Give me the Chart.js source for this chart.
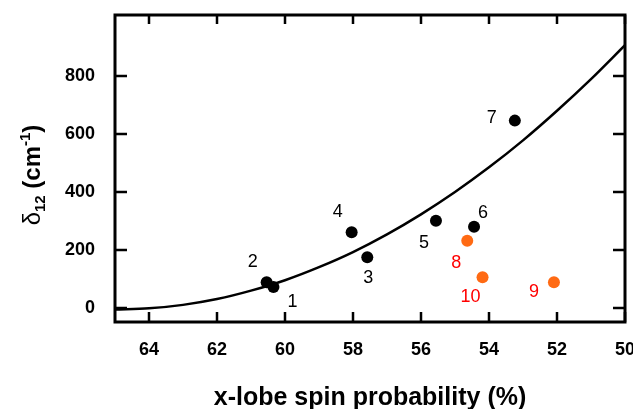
<!DOCTYPE html>
<html>
<head>
<meta charset="utf-8">
<script src="https://cdn.jsdelivr.net/npm/chart.js@4.4.1/dist/chart.umd.min.js"></script>
<style>
  body { margin: 0; background: #fff; }
  canvas { display: block; }
</style>
</head>
<body>
<canvas id="chart" width="633" height="409"></canvas>
<script>
// complexes 1-7 (black) and 8-10 (orange)
const idsA = ['1', '2', '3', '4', '5', '6', '7'];
const spinA = [60.34, 60.54, 57.58, 58.04, 55.56, 54.44, 53.24];
const deltaA = [73, 89, 175, 261, 301, 280, 646];

const idsB = ['8', '9', '10'];
const spinB = [54.64, 52.09, 54.19];
const deltaB = [232, 89, 106];

// fitted trend line, read at each percent
const fitX = [65, 64, 63, 62, 61, 60, 59, 58, 57, 56, 55, 54, 53, 52, 51, 50];
const fitY = [-5, -1, 11, 31, 60, 96, 141, 193, 254, 323, 400, 485, 578, 680, 789, 906];

const xTicks = [64, 62, 60, 58, 56, 54, 52, 50];
const yTicks = [0, 200, 400, 600, 800];

// label placement next to each dot (px)
const offsA = [[19, 15], [-14, -20], [1, 21], [-14, -20], [-12, 22], [9, -14], [-23, -3]];
const offsB = [[-11, 22], [-20, 10], [-12, 20]];

const FONT = '"Liberation Sans", Arial, sans-serif';

const frame = {
    id: 'frame',
    afterDatasetsDraw(chart) {
        const ctx = chart.ctx;
        const a = chart.chartArea;
        const xs = chart.scales.x, ys = chart.scales.y;
        ctx.save();
        ctx.strokeStyle = '#000';
        ctx.lineWidth = 2.5;
        ctx.beginPath();
        xTicks.forEach(v => {
            const p = xs.getPixelForValue(v);
            ctx.moveTo(p, a.bottom); ctx.lineTo(p, a.bottom - 10);
            ctx.moveTo(p, a.top); ctx.lineTo(p, a.top + 9);
        });
        yTicks.forEach(v => {
            const p = ys.getPixelForValue(v);
            ctx.moveTo(a.left, p); ctx.lineTo(a.left + 12, p);
            ctx.moveTo(a.right, p); ctx.lineTo(a.right - 12, p);
        });
        ctx.stroke();
        ctx.lineWidth = 3;
        ctx.strokeRect(a.left, a.top, a.right - a.left, a.bottom - a.top);

        // point numbers
        ctx.font = '18px ' + FONT;
        ctx.textAlign = 'center';
        ctx.textBaseline = 'middle';
        const tag = (ids, xsv, ysv, offs, color) => {
            ctx.fillStyle = color;
            ids.forEach((t, i) => {
                const px = xs.getPixelForValue(xsv[i]) + offs[i][0];
                const py = ys.getPixelForValue(ysv[i]) + offs[i][1];
                ctx.fillText(t, px, py);
            });
        };
        tag(idsA, spinA, deltaA, offsA, '#000');
        tag(idsB, spinB, deltaB, offsB, '#ff0000');

        // x title
        ctx.fillStyle = '#000';
        ctx.font = 'bold 25px ' + FONT;
        ctx.textBaseline = 'alphabetic';
        ctx.fillText('x-lobe spin probability (%)', (a.left + a.right) / 2, 405);

        // y title with sub/superscript
        const parts = [
            ['δ', '24px ' + FONT, 0],
            ['12', 'bold 15px ' + FONT, 5],
            [' (cm', 'bold 24px ' + FONT, 0],
            ['-1', 'bold 15px ' + FONT, -10],
            [')', 'bold 24px ' + FONT, 0]
        ];
        let total = 0;
        parts.forEach(p => { ctx.font = p[1]; total += ctx.measureText(p[0]).width; });
        ctx.translate(40, 175);
        ctx.rotate(-Math.PI / 2);
        ctx.textAlign = 'left';
        let cx = -total / 2;
        parts.forEach(p => {
            ctx.font = p[1];
            ctx.fillText(p[0], cx, p[2]);
            cx += ctx.measureText(p[0]).width;
        });
        ctx.restore();
    }
};

// no extra label padding, keep the plot box fixed
const noPad = s => {
    s.paddingLeft = 0; s.paddingRight = 0;
    s.paddingTop = 0; s.paddingBottom = 0;
};

new Chart(document.getElementById('chart'), {
    type: 'scatter',
    data: {
        datasets: [
            {
                label: '1-7',
                data: spinA.map((x, i) => ({ x: x, y: deltaA[i] })),
                backgroundColor: '#000',
                borderWidth: 0,
                pointRadius: 6
            },
            {
                label: '8-10',
                data: spinB.map((x, i) => ({ x: x, y: deltaB[i] })),
                backgroundColor: '#ff6a13',
                borderWidth: 0,
                pointRadius: 6
            },
            {
                type: 'line',
                label: 'fit',
                data: fitX.map((x, i) => ({ x: x, y: fitY[i] })),
                borderColor: '#000',
                borderWidth: 2.5,
                pointRadius: 0,
                cubicInterpolationMode: 'monotone',
                fill: false
            }
        ]
    },
    options: {
        responsive: false,
        animation: false,
        layout: { padding: { left: 0, right: 8, top: 15, bottom: 0 } },
        plugins: {
            legend: { display: false },
            tooltip: { enabled: false }
        },
        scales: {
            x: {
                type: 'linear',
                reverse: true,
                min: 50,
                max: 65,
                grid: { display: false, drawTicks: false },
                border: { display: false },
                afterBuildTicks: s => { s.ticks = xTicks.map(v => ({ value: v })); },
                afterFit: s => { s.height = 87; noPad(s); },
                ticks: {
                    padding: 17,
                    maxRotation: 0,
                    color: '#000',
                    font: { family: FONT, size: 18, weight: 'bold' }
                }
            },
            y: {
                min: -48,
                max: 1010,
                grid: { display: false, drawTicks: false },
                border: { display: false },
                afterBuildTicks: s => { s.ticks = yTicks.map(v => ({ value: v })); },
                afterFit: s => { s.width = 115; noPad(s); },
                ticks: {
                    padding: 20,
                    color: '#000',
                    font: { family: FONT, size: 18, weight: 'bold' }
                }
            }
        }
    },
    plugins: [frame]
});
</script>
</body>
</html>
